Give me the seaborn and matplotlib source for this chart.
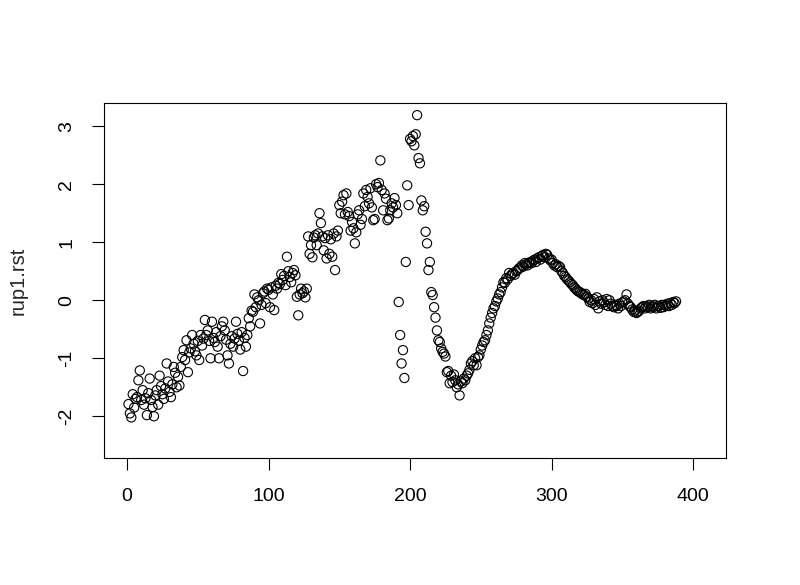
import numpy as np
import pandas as pd
import matplotlib
matplotlib.use("Agg")
import matplotlib.pyplot as plt
import seaborn as sns

# standardized residuals (index 1..388)
rst_rise = [
    -1.79, -1.95, -2.02, -1.62, -1.85, -1.70, -1.67, -1.38, -1.21, -1.72,
    -1.55, -1.80, -1.69, -1.98, -1.60, -1.35, -1.72, -1.84, -2.00, -1.64,
    -1.55, -1.80, -1.30, -1.48, -1.62, -1.70, -1.52, -1.09, -1.40, -1.58,
    -1.67, -1.45, -1.15, -1.25, -1.50, -1.32, -1.47, -1.15, -0.98, -0.86,
    -1.03, -0.69, -1.24, -0.90, -0.83, -0.60, -0.75, -0.88, -0.95, -0.70,
    -1.03, -0.60, -0.78, -0.66, -0.34, -0.60, -0.52, -0.70, -1.00, -0.37,
    -0.65, -0.72, -0.55, -0.80, -1.00, -0.62, -0.45, -0.37, -0.52, -0.68,
    -0.95, -1.09, -0.75, -0.62, -0.80, -0.66, -0.37, -0.58, -0.70, -0.85,
    -0.55, -1.22, -0.65, -0.80, -0.60, -0.31, -0.45, -0.18, -0.20, 0.10,
    -0.12, 0.05, 0.00, -0.40, -0.08, 0.12, 0.15, -0.05, 0.20, 0.18,
    -0.12, 0.22, 0.10, -0.17, 0.25, 0.20, 0.30, 0.28, 0.45, 0.35,
    0.42, 0.26, 0.75, 0.50, 0.40, 0.31, 0.47, 0.52, 0.43, 0.06,
    -0.26, 0.10, 0.20, 0.12, 0.15, 0.05, 0.20, 1.10, 0.80, 0.95,
    0.74, 1.08, 1.12, 0.95, 1.15, 1.50, 1.33, 1.10, 0.86, 1.07,
    0.72, 1.12, 0.80, 1.05, 0.75, 1.15, 0.52, 1.10, 1.20, 1.64,
    1.50, 1.70, 1.81, 1.48, 1.84, 1.52, 1.45, 1.20, 1.35, 1.24,
    0.98, 1.17, 1.48, 1.55, 1.30, 1.40, 1.84, 1.62, 1.90, 1.78,
    1.67, 1.93, 1.60, 1.38, 1.40, 2.00, 1.95, 2.02, 2.41, 1.90,
    1.55, 1.84, 1.75, 1.38, 1.41, 1.55, 1.67, 1.60, 1.76, 1.64, 1.50,
]

rst_spike = [
    -0.03, -0.60, -1.09, -0.86, -1.34, 0.66, 1.98, 1.64, 2.78, 2.74,
    2.83, 2.67, 2.86, 3.19, 2.45, 2.36, 1.72, 1.55, 1.62, 1.18,
    0.98, 0.52, 0.66, 0.14, 0.09, -0.12, -0.30, -0.52, -0.69, -0.72,
    -0.83, -0.89, -0.92, -0.97,
]

rst_wave = [
    -1.24, -1.22, -1.43, -1.30, -1.41, -1.28, -1.38, -1.50, -1.45, -1.64,
    -1.40, -1.43, -1.35, -1.38, -1.30, -1.26, -1.20, -1.09, -1.05, -1.12,
    -1.00, -1.12, -0.98, -0.95, -0.85, -0.78, -0.72, -0.69, -0.60, -0.52,
    -0.40, -0.30, -0.22, -0.14, -0.10, -0.02, 0.03, 0.10, 0.14, 0.22,
    0.31, 0.30, 0.38, 0.36, 0.47, 0.42, 0.45, 0.47, 0.44, 0.50,
    0.52, 0.55, 0.56, 0.60, 0.58, 0.64, 0.62, 0.60, 0.64, 0.66,
    0.64, 0.68, 0.70, 0.66, 0.72, 0.74, 0.70, 0.76, 0.78, 0.74,
    0.80, 0.78, 0.72, 0.69, 0.70, 0.64, 0.60, 0.62, 0.57, 0.59,
    0.57, 0.50, 0.47, 0.42, 0.40, 0.36, 0.34, 0.31, 0.28, 0.26,
    0.22, 0.20, 0.17, 0.15, 0.14, 0.12, 0.10, 0.09, 0.11, 0.06,
    0.03, -0.03, 0.00, -0.05, 0.02, -0.08, 0.05, -0.14, -0.02, -0.06,
    0.00, -0.04, -0.08, 0.02, -0.10, 0.00, -0.06, -0.10, -0.12, -0.08,
    -0.10, -0.14, -0.06, -0.10, -0.04, -0.02, 0.00, 0.10, -0.06, -0.10,
    -0.12, -0.16, -0.20, -0.18, -0.22, -0.20, -0.18, -0.14, -0.12, -0.10,
    -0.14, -0.10, -0.12, -0.08, -0.14, -0.10, -0.12, -0.08, -0.14, -0.10,
    -0.10, -0.13, -0.08, -0.12, -0.08, -0.10, -0.06, -0.10, -0.05, -0.08,
    -0.03, -0.05, -0.02,
]

rst = rst_rise + rst_spike + rst_wave
df = pd.DataFrame({"idx": np.arange(1, len(rst) + 1), "rup1.rst": rst})

sns.set_style("ticks")
plt.rcParams["font.family"] = ["Liberation Sans", "DejaVu Sans"]
plt.rcParams["axes.unicode_minus"] = False

fig, ax = plt.subplots(figsize=(8, 5.85), dpi=100)
fig.subplots_adjust(left=0.13, right=0.9075, bottom=0.217, top=0.824)

sns.scatterplot(data=df, x="idx", y="rup1.rst", ax=ax, s=44,
                facecolor="none", edgecolor="black", linewidth=0.8)

ax.set_xlim(-16.3, 423.3)
ax.set_ylim(-2.72, 3.40)
ax.set_xticks([0, 100, 200, 300, 400])
ax.set_yticks([-2, -1, 0, 1, 2, 3])
ax.set_xlabel("")
ax.set_ylabel("rup1.rst", fontsize=14.5, va="center")
ax.yaxis.set_label_coords(-0.138, 0.5)

for sp in ax.spines.values():
    sp.set_visible(True)
    sp.set_color("black")
    sp.set_linewidth(0.8)

ax.tick_params(axis="both", length=8.6, width=0.8, color="black",
               labelsize=14, labelcolor="black")
ax.tick_params(axis="x", pad=13)
ax.tick_params(axis="y", pad=12)
for lab in ax.get_yticklabels():
    lab.set_rotation(90)
    lab.set_va("center")

fig.savefig("out.png", dpi=100)
